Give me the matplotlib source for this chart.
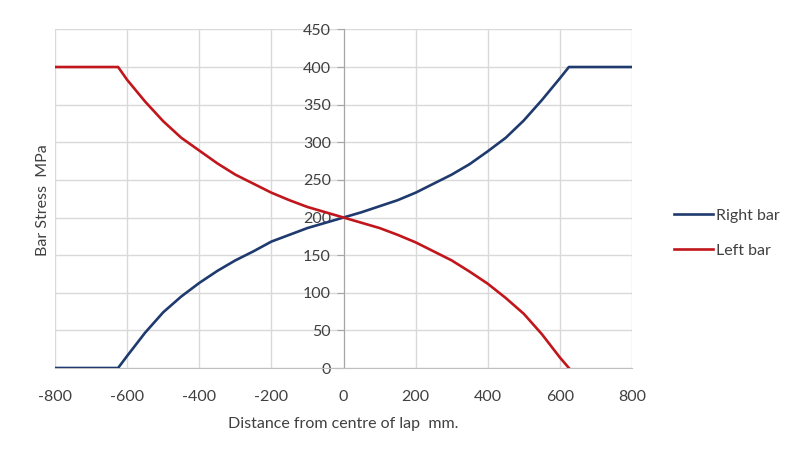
import matplotlib
matplotlib.use("Agg")
from matplotlib import pyplot as plt
from matplotlib.lines import Line2D

plt.rcParams['font.family'] = ['Lato', 'DejaVu Sans']
plt.rcParams['axes.unicode_minus'] = False

# distance along the lap (mm) and stresses in the two bars (MPa)
distance = [-800, -625, -600, -550, -500, -450, -400, -350, -300, -250, -200, -150, -100, -50,
            0, 50, 100, 150, 200, 250, 300, 350, 400, 450, 500, 550, 600, 625, 800]
right_bar = [0, 0, 16, 47, 74, 95, 113, 129, 143, 155, 168, 177, 186, 193,
             200, 207, 215, 223, 233, 245, 257, 271, 288, 306, 329, 356, 385, 400, 400]
# left bar stops once it reaches zero at the end of the lap
left_bar = [400, 400, 383, 354, 328, 306, 289, 272, 257, 245, 233, 223, 214, 207,
            200, 193, 186, 177, 167, 155, 143, 128, 112, 93, 72, 45, 14, 0]

x_ticks = [-800, -600, -400, -200, 0, 200, 400, 600, 800]
y_ticks = [0, 50, 100, 150, 200, 250, 300, 350, 400, 450]

blue = '#1f3a6e'
red = '#c0161c'
text_col = '#404040'
grid_col = '#d9d9d9'

fig = plt.figure(figsize=(7.96, 4.55), dpi=100)
ax = fig.add_axes([55 / 796, 1 - 368 / 455, 577 / 796, (368 - 29.4) / 455])

ax.plot(distance, right_bar, color=blue, lw=1.9, solid_joinstyle='round', zorder=3)
ax.plot(distance[:len(left_bar)], left_bar, color=red, lw=1.9, solid_joinstyle='round', zorder=3)

ax.set_xlim(-800, 800)
ax.set_ylim(0, 450)
ax.set_xticks(x_ticks)
ax.set_yticks(y_ticks)
ax.grid(True, color=grid_col, lw=1.0)
ax.set_axisbelow(True)

# vertical axis sits at x = 0, horizontal at y = 0
ax.spines['left'].set_position(('data', 0))
ax.spines['left'].set_color('#a6a6a6')
ax.spines['bottom'].set_color('#bfbfbf')
ax.spines['top'].set_visible(False)
ax.spines['right'].set_visible(False)
ax.tick_params(axis='y', length=5, color='#a6a6a6', pad=4, labelsize=11.5, labelcolor=text_col)
ax.tick_params(axis='x', length=0, pad=16, labelsize=11.5, labelcolor=text_col)

fig.text(343 / 796, 1 - 424 / 455, 'Distance from centre of lap  mm.', ha='center', va='center',
         fontsize=11.5, color=text_col)
fig.text(43 / 796, 1 - 200 / 455, 'Bar Stress  MPa', ha='center', va='center', rotation=90,
         fontsize=11.5, color=text_col)

handles = [Line2D([], [], color=blue, lw=1.9), Line2D([], [], color=red, lw=1.9)]
fig.legend(handles, ['Right bar', 'Left bar'], loc='center left', bbox_to_anchor=(668 / 796, 1 - 233 / 455),
           frameon=False, fontsize=11.5, labelcolor=text_col, handlelength=2.4, handletextpad=0.2,
           labelspacing=1.3, borderaxespad=0)

fig.savefig('out.png', dpi=100, facecolor='white')
